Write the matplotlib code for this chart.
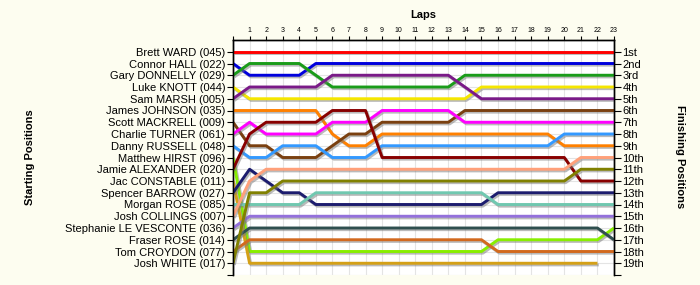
import matplotlib
matplotlib.use("Agg")
import matplotlib.pyplot as plt
import matplotlib.patheffects as pe

plt.rcParams['font.family'] = ['Liberation Sans', 'DejaVu Sans']

# starting grid (top to bottom) and finishing labels
names = ['Brett WARD (045)', 'Connor HALL (022)', 'Gary DONNELLY (029)', 'Luke KNOTT (044)',
         'Sam MARSH (005)', 'James JOHNSON (035)', 'Scott MACKRELL (009)', 'Charlie TURNER (061)',
         'Danny RUSSELL (048)', 'Matthew HIRST (096)', 'Jamie ALEXANDER (020)', 'Jac CONSTABLE (011)',
         'Spencer BARROW (027)', 'Morgan ROSE (085)', 'Josh COLLINGS (007)',
         'Stephanie LE VESCONTE (036)', 'Fraser ROSE (014)', 'Tom CROYDON (077)', 'Josh WHITE (017)']
finish = ['1st', '2nd', '3rd', '4th', '5th', '6th', '7th', '8th', '9th', '10th',
          '11th', '12th', '13th', '14th', '15th', '16th', '17th', '18th', '19th']
lap_ticks = list(range(1, 24))

# position at each lap, lap 0 = grid
ward = [1] * 24
hall = [2, 3, 3, 3, 3] + [2] * 19
donnelly = [3, 2, 2, 2, 2, 3] + [4] * 8 + [3] * 10
knott = [4] + [5] * 14 + [4] * 9
marsh = [5] + [4] * 5 + [3] * 8 + [4] + [5] * 9
johnson = [6] * 6 + [8] + [9] * 2 + [8] * 11 + [9] * 4
mackrell = [7] + [9] * 2 + [10] * 3 + [9] + [8] * 2 + [7] * 5 + [6] * 10
turner = [8, 7] + [8] * 4 + [7] * 3 + [6] * 5 + [7] * 10
russell = [9] + [10] * 2 + [9] * 3 + [10] * 3 + [9] * 11 + [8] * 4
hirst = [10] + [18] * 15 + [17] * 7 + [16]
alexander = [11, 8] + [7] * 4 + [6] * 3 + [10] * 12 + [12] * 3
constable = [12] + [19] * 22
barrow = [13, 11, 12, 13, 13] + [14] * 11 + [13] * 8
m_rose = [14] * 5 + [13] * 11 + [14] * 8
collings = [15, 12] + [11] * 19 + [10] * 3
vesconte = [16] + [15] * 23
f_rose = [17] + [16] * 22 + [17]
croydon = [18] + [17] * 15 + [18] * 8
white = [19, 13, 13] + [12] * 18 + [11] * 3

series = [ward, hall, donnelly, knott, marsh, johnson, mackrell, turner, russell, hirst,
          alexander, constable, barrow, m_rose, collings, vesconte, f_rose, croydon, white]
colors = ['#ff0000', '#0000dd', '#1a9c1a', '#f5e600', '#7a1a88', '#ff8000', '#7a4010',
          '#ff00ff', '#3399ff', '#88ee00', '#880000', '#d4a017', '#1c1c6e', '#70c8b0',
          '#ffa07a', '#9370db', '#2f4f4f', '#d2691e', '#808000']

fig = plt.figure(figsize=(7, 2.85), dpi=100, facecolor='#fdfdf0')
ax = fig.add_axes([233 / 700, 1 - 275 / 285, (614 - 233) / 700, (275 - 40) / 285])
ax.set_facecolor('#ffffff')

for pos, col in zip(series, colors):
    ax.plot(range(len(pos)), pos, color=col, lw=2.1, solid_capstyle='butt', zorder=3,
            path_effects=[pe.SimpleLineShadow(offset=(1, -1.2), shadow_color='#777777', alpha=0.5),
                          pe.Normal()])

ax.set_xlim(0, 23)
ax.set_ylim(20, 0)

ax.set_xticks(range(0, 24))
ax.set_xticklabels([''] + [str(t) for t in lap_ticks])
ax.xaxis.tick_top()
ax.tick_params(axis='x', labelsize=5, length=3, pad=1.5, width=0.8)
ax.set_xlabel('Laps', fontsize=8, fontweight='bold', labelpad=6)
ax.xaxis.set_label_position('top')

ax.set_yticks(range(1, 21))
ax.set_yticklabels(names + [''])
ax.tick_params(axis='y', labelsize=8, length=4, pad=1.5, width=0.8)
ax.grid(True, color='#e4e4e4', lw=0.8, zorder=0)
ax.set_axisbelow(True)

ax2 = ax.twinx()
ax2.set_ylim(20, 0)
ax2.set_yticks(range(1, 21))
ax2.set_yticklabels(finish + [''])
ax2.tick_params(axis='y', labelsize=8, length=5, pad=1, width=0.8)

for a in (ax, ax2):
    a.spines['bottom'].set_visible(False)
    for s in ('top', 'left', 'right'):
        a.spines[s].set_linewidth(1.0)

fig.text(30 / 700, 1 - 157 / 285, 'Starting Positions', rotation=90, fontsize=8,
         fontweight='bold', ha='center', va='center')
fig.text(680 / 700, 1 - 157 / 285, 'Finishing Positions', rotation=270, fontsize=8,
         fontweight='bold', ha='center', va='center')

fig.savefig('out.png', dpi=100, facecolor=fig.get_facecolor())
